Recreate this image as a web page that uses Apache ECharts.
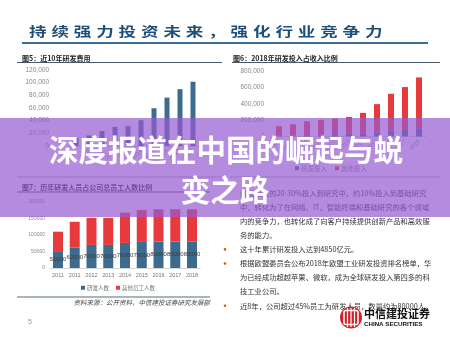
<!DOCTYPE html>
<html>
<head>
<meta charset="utf-8">
<style>
  html, body { margin: 0; padding: 0; background: #fff; }
  #chart { width: 450px; height: 337px; }
</style>
<script src="https://cdn.jsdelivr.net/npm/echarts@6/dist/echarts.min.js"></script>
</head>
<body>
<div id="chart"></div>
<script>
// Slide heading and panel captions
const slideTitle = '持续强力投资未来，强化行业竞争力';
const caption5 = '图5：近10年研发费用';
const caption6 = '图6：2018年研发投入占收入比例';
const caption7 = '图7：历年研发人员占公司总员工人数比例';
const bannerLines = ['深度报道在中国的崛起与蜕', '变之路'];
const sourceNote = '资料来源：公开资料，中信建投证券研究发展部';
const pageNo = '5';

// Figure 5: R&D spending over ten years
const years5 = ['2009', '2010', '2011', '2012', '2013', '2014', '2015', '2016', '2017', '2018'];
const rdSpend = [13300, 16600, 23700, 30100, 31600, 40800, 59600, 76400, 89700, 101500];

// Figure 6: R&D input vs. other input (stacked)
const years6 = ['2008', '2009', '2010', '2011', '2012', '2013', '2014', '2015', '2016', '2017', '2018'];
const rdInput6 = [10400, 13300, 16600, 23700, 30100, 31600, 40800, 59600, 76400, 89700, 101500];
const otherInput6 = [114800, 135700, 168600, 180200, 190100, 207400, 247400, 335400, 445200, 513900, 619700];

// Figure 7: R&D staff vs. other staff (stacked)
const years7 = ['2011', '2011', '2012', '2013', '2014', '2015', '2016', '2017', '2018'];
const rdStaff = [51000, 62000, 70000, 70000, 76000, 79000, 80000, 80000, 80000];
const otherStaff = [59000, 78000, 82000, 82000, 92000, 97000, 98000, 98000, 98000];

// Bullet text in the right column
const bodyLines = [
  '研发投入的20-30%投入到研究中，约10%投入到基础研究',
  '中，转化为了在网络、IT、智能终端和基础研究的各个领域',
  '内的竞争力，也转化成了向客户持续提供创新产品和高效服',
  '务的能力。',
  '这十年累计研发投入达到4850亿元。',
  '根据欧盟委员会公布2018年欧盟工业研发投资排名榜单，华',
  '为已经成功超越苹果、微软，成为全球研发投入第四多的科',
  '技工业公司。',
  '近8年，公司超过45%员工为研发人员，数量约为80000人。'
];
const bulletRows = [0, 4, 5, 8];

const BLUE = '#3d6b8e';
const RED = '#e8393d';
const CJK = '"Noto Sans CJK SC", "Noto Sans", sans-serif';
const LAT = '"Liberation Sans", "DejaVu Sans", sans-serif';

const chart = echarts.init(document.getElementById('chart'), null, { renderer: 'canvas' });

const graphics = [];

// heading, drawn glyph by glyph with a wide stretch
for (let i = 0; i < slideTitle.length; i++) {
  graphics.push({
    type: 'text', x: 29 + i * 22.4, y: 31, scaleX: 1.35, z: 5,
    style: { text: slideTitle[i], fill: '#1f4e79', font: 'bold 13px ' + CJK, align: 'left', verticalAlign: 'middle' }
  });
}
graphics.push({ type: 'line', z: 5, shape: { x1: 22, y1: 43, x2: 428, y2: 43 }, style: { stroke: '#3c6e98', lineWidth: 2 } });

// panel captions and rules
function caption(text, x, y) {
  graphics.push({ type: 'text', x, y, z: 5, style: { text, fill: '#222', font: 'bold 7px ' + CJK, align: 'left', verticalAlign: 'middle' } });
}
caption(caption5, 22, 58);
caption(caption6, 233, 58);
caption(caption7, 22, 187);
function rule(x1, y, x2, color, w) {
  graphics.push({ type: 'line', z: 5, shape: { x1, y1: y, x2, y2: y }, style: { stroke: color, lineWidth: w } });
}
rule(17, 62.5, 222, '#4a5866', 1);
rule(232, 62.5, 440, '#4a5866', 1);
rule(17, 177, 222, '#9aa6b0', 1);
rule(230, 177, 440, '#9aa6b0', 1);
rule(17, 192, 210, '#4a5866', 1);
rule(17, 297, 210, '#a9b5bd', 2);

graphics.push({ type: 'text', x: 210, y: 303, z: 5, style: { text: sourceNote, fill: '#444', font: 'italic 6.5px ' + CJK, align: 'right', verticalAlign: 'middle' } });
graphics.push({ type: 'text', x: 28, y: 322, z: 5, style: { text: pageNo, fill: '#999', font: '7px ' + LAT, align: 'left', verticalAlign: 'middle' } });

// right column bullets
bodyLines.forEach((line, i) => {
  const y = 193 + i * 14.1;
  graphics.push({ type: 'text', x: 240, y, z: 5, style: { text: line, fill: '#333', font: '7.3px ' + CJK, align: 'left', verticalAlign: 'middle' } });
  if (bulletRows.indexOf(i) >= 0) {
    graphics.push({ type: 'circle', z: 5, shape: { cx: 225, cy: y, r: 1.3 }, style: { fill: '#b8661f' } });
  }
});

// CITIC Securities mark
graphics.push({ type: 'circle', z: 20, shape: { cx: 351, cy: 317.5, r: 11 }, style: { fill: '#d71f26' } });
graphics.push({ type: 'rect', z: 21, shape: { x: 344, y: 310.5, width: 14, height: 14, r: 2 }, style: { fill: 'none', stroke: '#fff', lineWidth: 1.6 } });
[347.5, 351, 354.5].forEach(x => {
  graphics.push({ type: 'line', z: 21, shape: { x1: x, y1: 308, x2: x, y2: 327 }, style: { stroke: '#fff', lineWidth: 1.2 } });
});
graphics.push({ type: 'text', x: 364, y: 313.5, z: 20, style: { text: '中信建投证券', fill: '#111', font: 'bold 11px ' + CJK, align: 'left', verticalAlign: 'middle' } });
graphics.push({ type: 'text', x: 364, y: 323.8, z: 20, style: { text: 'CHINA SECURITIES', fill: '#111', font: 'bold 6.2px ' + LAT, align: 'left', verticalAlign: 'middle' } });

// translucent purple banner with its headline
graphics.push({ type: 'rect', z: 100, shape: { x: 0, y: 118, width: 450, height: 99 }, style: { fill: 'rgba(150,90,210,0.7)' } });
graphics.push({ type: 'text', x: 226, y: 150, z: 101, style: { text: bannerLines[0], fill: '#fff', font: 'bold 29.5px ' + CJK, align: 'center', verticalAlign: 'middle', shadowColor: 'rgba(60,20,100,0.25)', shadowBlur: 2 } });
graphics.push({ type: 'text', x: 225, y: 190, z: 101, style: { text: bannerLines[1], fill: '#fff', font: 'bold 29.5px ' + CJK, align: 'center', verticalAlign: 'middle', shadowColor: 'rgba(60,20,100,0.25)', shadowBlur: 2 } });

const smallAxisText = (size, color) => ({ fontSize: size, color, fontFamily: LAT });

const option = {
  animation: false,
  backgroundColor: '#fff',
  grid: [
    { left: 69.5, top: 70, width: 130, height: 76 },
    { left: 272, top: 71, width: 154, height: 65.5 },
    { left: 49.6, top: 202, width: 150.8, height: 66 }
  ],
  xAxis: [
    { type: 'category', gridIndex: 0, data: years5, axisTick: { show: false },
      axisLine: { lineStyle: { color: '#d9d9d9' } },
      axisLabel: { interval: 0, rotate: 45, margin: 4, ...smallAxisText(5.5, '#888') } },
    { type: 'category', gridIndex: 1, data: years6, axisTick: { show: false },
      axisLine: { lineStyle: { color: '#d9d9d9' } },
      axisLabel: { interval: 0, rotate: 45, margin: 4, ...smallAxisText(5.5, '#888') } },
    { type: 'category', gridIndex: 2, data: years7, axisTick: { show: false },
      axisLine: { lineStyle: { color: '#d9d9d9' } },
      axisLabel: { interval: 0, margin: 4, ...smallAxisText(5.5, '#777') } }
  ],
  yAxis: [
    { type: 'value', gridIndex: 0, min: 0, max: 120000, interval: 20000,
      splitLine: { show: false }, axisLine: { show: false }, axisTick: { show: false },
      axisLabel: { margin: 20.5, ...smallAxisText(6.5, '#888') } },
    { type: 'value', gridIndex: 1, min: 0, max: 800000, interval: 200000,
      splitLine: { show: false }, axisLine: { show: false }, axisTick: { show: false },
      axisLabel: { margin: 8, ...smallAxisText(6.5, '#888') } },
    { type: 'value', gridIndex: 2, min: 0, max: 200000, interval: 50000,
      splitLine: { show: false }, axisLine: { show: false }, axisTick: { show: false },
      axisLabel: { margin: 4.6, formatter: v => String(v), ...smallAxisText(5, '#888') } }
  ],
  legend: [
    { data: ['研发投入', '其他投入'], left: 295, top: 165, orient: 'horizontal', icon: 'rect',
      itemWidth: 4, itemHeight: 4, itemGap: 8, padding: 0,
      textStyle: { fontSize: 6.5, color: '#888', fontFamily: CJK, padding: [0, 0, 0, -3] } },
    { data: ['研发人数', '其他员工人数'], left: 81, top: 285, orient: 'horizontal', icon: 'rect',
      itemWidth: 4, itemHeight: 4, itemGap: 7, padding: 0,
      textStyle: { fontSize: 5.5, color: '#777', fontFamily: CJK, padding: [0, 0, 0, -3] } }
  ],
  series: [
    { name: '研发费用', type: 'bar', xAxisIndex: 0, yAxisIndex: 0, data: rdSpend,
      barWidth: 5, itemStyle: { color: BLUE } },
    { name: '研发投入', type: 'bar', xAxisIndex: 1, yAxisIndex: 1, stack: 'rev', data: rdInput6,
      barWidth: 6, itemStyle: { color: BLUE } },
    { name: '其他投入', type: 'bar', xAxisIndex: 1, yAxisIndex: 1, stack: 'rev', data: otherInput6,
      barWidth: 6, itemStyle: { color: RED } },
    { name: '研发人数', type: 'bar', xAxisIndex: 2, yAxisIndex: 2, stack: 'staff', data: rdStaff,
      barWidth: 10, itemStyle: { color: BLUE },
      label: { show: true, position: 'inside', fontSize: 6, color: '#3a3a3a', fontFamily: LAT } },
    { name: '其他员工人数', type: 'bar', xAxisIndex: 2, yAxisIndex: 2, stack: 'staff', data: otherStaff,
      barWidth: 10, itemStyle: { color: RED } }
  ],
  graphic: { elements: graphics }
};

chart.setOption(option);
</script>
</body>
</html>
